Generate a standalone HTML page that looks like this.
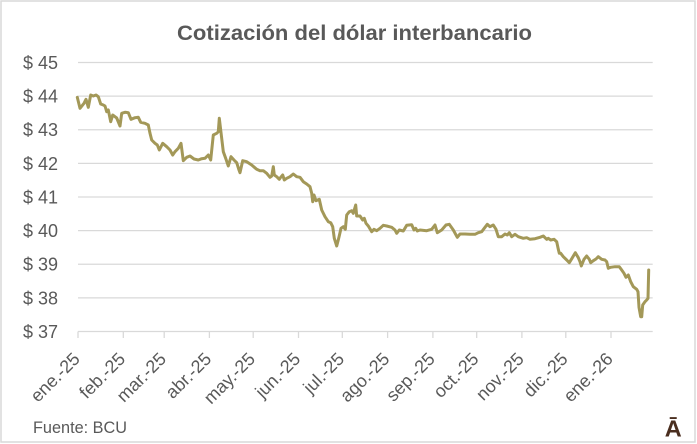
<!DOCTYPE html>
<html>
<head>
<meta charset="utf-8">
<style>
  html, body { margin: 0; padding: 0; background: #ffffff; }
  svg { display: block; }
  text { font-family: "Liberation Sans", Arial, sans-serif; }
</style>
</head>
<body>
<svg width="697" height="444" viewBox="0 0 697 444" xmlns="http://www.w3.org/2000/svg">
  <rect x="0" y="0" width="697" height="444" fill="#ffffff"/>
  <rect x="1" y="1" width="694" height="441" fill="none" stroke="#d9d9d9" stroke-width="1.5"/>

  <!-- Title -->
  <text x="177" y="40" font-size="21" font-weight="bold" fill="#595959" textLength="355" lengthAdjust="spacingAndGlyphs">Cotización del dólar interbancario</text>

  <!-- Gridlines -->
  <g stroke="#d9d9d9" stroke-width="1.3">
    <line x1="78" y1="62.5" x2="652.7" y2="62.5"/>
    <line x1="78" y1="96.1" x2="652.7" y2="96.1"/>
    <line x1="78" y1="129.75" x2="652.7" y2="129.75"/>
    <line x1="78" y1="163.4" x2="652.7" y2="163.4"/>
    <line x1="78" y1="197" x2="652.7" y2="197"/>
    <line x1="78" y1="230.6" x2="652.7" y2="230.6"/>
    <line x1="78" y1="264.25" x2="652.7" y2="264.25"/>
    <line x1="78" y1="297.9" x2="652.7" y2="297.9"/>
    <line x1="78" y1="331.5" x2="652.7" y2="331.5"/>
  </g>
  <!-- Ticks -->
  <g stroke="#d9d9d9" stroke-width="1.3">
    <line x1="78" y1="331.5" x2="78" y2="338"/>
    <line x1="123.3" y1="331.5" x2="123.3" y2="338"/>
    <line x1="164.2" y1="331.5" x2="164.2" y2="338"/>
    <line x1="209.4" y1="331.5" x2="209.4" y2="338"/>
    <line x1="253.2" y1="331.5" x2="253.2" y2="338"/>
    <line x1="298.5" y1="331.5" x2="298.5" y2="338"/>
    <line x1="342.3" y1="331.5" x2="342.3" y2="338"/>
    <line x1="387.6" y1="331.5" x2="387.6" y2="338"/>
    <line x1="432.9" y1="331.5" x2="432.9" y2="338"/>
    <line x1="476.7" y1="331.5" x2="476.7" y2="338"/>
    <line x1="521.9" y1="331.5" x2="521.9" y2="338"/>
    <line x1="565.8" y1="331.5" x2="565.8" y2="338"/>
    <line x1="611" y1="331.5" x2="611" y2="338"/>
  </g>

  <!-- Y labels -->
  <g font-size="18" fill="#595959" text-anchor="end">
    <text x="58" y="69">$ 45</text>
    <text x="58" y="102.6">$ 44</text>
    <text x="58" y="136.2">$ 43</text>
    <text x="58" y="169.9">$ 42</text>
    <text x="58" y="203.5">$ 41</text>
    <text x="58" y="237.1">$ 40</text>
    <text x="58" y="270.7">$ 39</text>
    <text x="58" y="304.4">$ 38</text>
    <text x="58" y="338">$ 37</text>
  </g>

  <!-- X labels -->
  <g font-size="18" fill="#595959" text-anchor="end">
    <text transform="translate(81,360) rotate(-45)">ene.-25</text>
    <text transform="translate(126.3,360) rotate(-45)">feb.-25</text>
    <text transform="translate(167.2,360) rotate(-45)">mar.-25</text>
    <text transform="translate(212.4,360) rotate(-45)">abr.-25</text>
    <text transform="translate(256.2,360) rotate(-45)">may.-25</text>
    <text transform="translate(301.5,360) rotate(-45)">jun.-25</text>
    <text transform="translate(345.3,360) rotate(-45)">jul.-25</text>
    <text transform="translate(390.6,360) rotate(-45)">ago.-25</text>
    <text transform="translate(435.9,360) rotate(-45)">sep.-25</text>
    <text transform="translate(479.7,360) rotate(-45)">oct.-25</text>
    <text transform="translate(524.9,360) rotate(-45)">nov.-25</text>
    <text transform="translate(568.8,360) rotate(-45)">dic.-25</text>
    <text transform="translate(614,360) rotate(-45)">ene.-26</text>
  </g>

  <!-- Series -->
  <polyline fill="none" stroke="#A39858" stroke-width="3" stroke-linejoin="round" stroke-linecap="round"
    points="77.3,97.3 80,108.3 84,103.3 86,99.3 88.3,107.3 90.7,95 93.3,96 96,95 98.3,96.7 100.7,104 103.3,105 105,106 106.7,111.7 108.3,110 110.7,121.7 112.7,115 115,116.7 116.7,118 120,126 121.7,113.3 125,112.3 128.3,112.7 131,119.3 135,117.7 138.3,117.3 140.7,122.3 145,123.3 148.3,125 150,133.3 151.7,140 155,143.3 157.3,145 159.3,150 162.7,143.3 166.7,146.7 170,150 172.7,155 175,151.7 178.3,148.3 181,143.3 183.3,160.7 186.7,157.3 190,156 194,159 198.3,160 201.7,158.7 205,158.3 208.3,155 210.7,160 213.3,135 216.7,133.3 218.3,131.7 219.3,118.3 220.7,130 223.3,151.7 225.7,158.3 228.3,166 231,156.7 234,160 236.7,162.7 239,170 240,172.7 242.7,160.7 246.7,161.7 251.7,165 256.7,169.3 260,170.7 263.3,170.7 266.7,173.3 270,177.3 271.7,176 273.3,166.7 274.3,175 276.7,176.7 279.3,179.3 280.7,177.3 282.7,175 284.3,180 286.7,178.3 290,176.7 293.3,174 296.7,176.7 300,177.3 303.3,181.7 306.7,184 310,186.7 311.7,193.3 312.7,201.7 314,195 316,200.7 319.3,199.3 321.7,210 325,216.7 328.3,221.7 330.7,222.7 332.7,226.7 334.3,238.3 336.7,246 338.7,238.3 341,228.3 343.3,226.7 345.3,229.3 346.7,215 349.3,211.7 351.7,210.7 353.3,213.3 355.7,205 356.7,216 360,216 362.7,220 364.3,218.3 366,223.3 368.3,226 371.7,231.7 374,229.3 376.7,230.7 380,228.3 383.3,225.3 386.7,226 391.7,227.3 395,230 396.7,233.3 399.3,230 403.3,231 406.7,225.3 411.7,224.7 414,230 415.7,228.3 417.3,231 420,230 426.7,230.7 431.7,229.3 435,225 437.3,232.7 441.7,230 446,225 449.3,224.3 453.3,230 457.3,237.3 460,234 465,234 470,234.3 475,234.3 478.3,232.7 481.7,231.7 485,227.3 487.3,224.3 490,226.7 493.3,225 496,229.3 498.3,236.7 501.7,236.7 505,234 507.3,235 509.3,232.7 511.7,236.7 515,234.3 518.3,236.7 523.3,238.3 526.7,237.7 530,239.3 535,238.7 540,237.3 543.3,236 546.7,239.3 548.3,238.3 550.7,240 554,239.3 556.7,241.7 558.3,249.3 559.3,253.3 560.7,253.3 563.3,256.7 566.7,260 569.3,262.7 572,258.3 575.3,252.7 578.3,257.7 580,261.7 581.3,266 584,259.3 586.7,256 589.3,259.3 590.7,262.7 593.3,260.7 596,259 598.3,256.7 601.7,259.3 605,260 606.7,261.7 608.3,268.3 610.7,267.3 615,266.7 619.3,266.7 621.7,270 624,273.3 626,277.3 628.3,275 630.7,281.7 633.3,286.7 636.7,289.3 638,291.7 639,307.3 640.7,316.7 641.7,316.7 642.7,305 645,301.7 646.7,300 648,298.3 648.7,270"/>

  <!-- Source -->
  <text x="33" y="433" font-size="16.5" fill="#595959" textLength="94" lengthAdjust="spacingAndGlyphs">Fuente: BCU</text>

  <!-- Logo -->
  <text x="673.3" y="436.7" font-size="23.5" font-weight="bold" fill="#4a2e1f" text-anchor="middle">Ā</text>
</svg>
</body>
</html>
